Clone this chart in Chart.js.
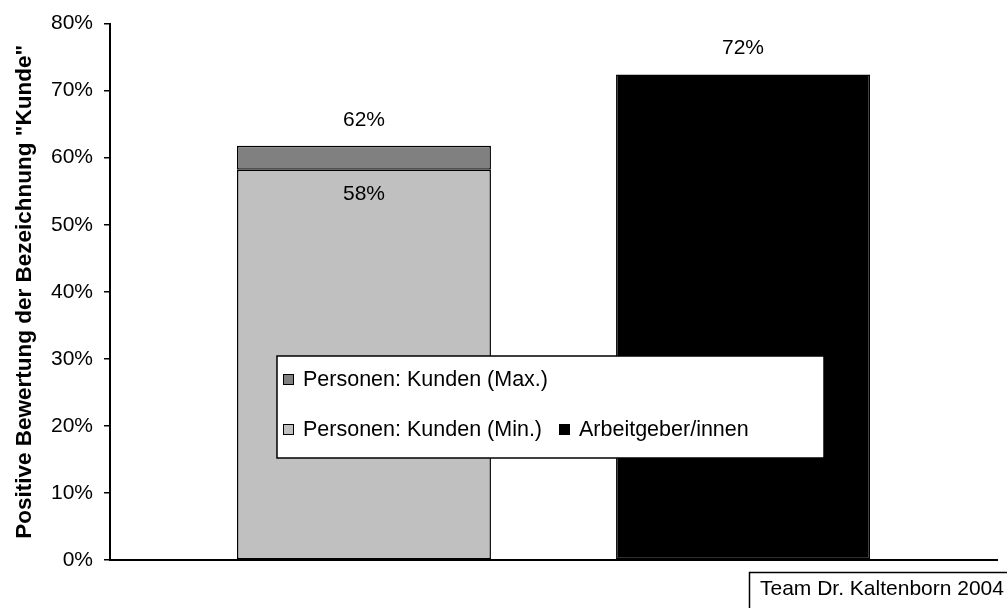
<!DOCTYPE html>
<html>
<head>
<meta charset="utf-8">
<script src="https://cdn.jsdelivr.net/npm/chart.js@4/dist/chart.umd.min.js"></script>
<style>
  html, body { margin: 0; padding: 0; background: #fff; }
  #wrap { width: 1007px; height: 608px; position: relative; }
</style>
</head>
<body>
<div id="wrap"><canvas id="c" width="1007" height="608"></canvas></div>
<script>
// Group positions along the x axis (1 = Personen/Kunden, 2 = Arbeitgeber/innen)
const groupPos = [1, 2];
const seriesNames = ['Personen: Kunden (Min.)', 'Personen: Kunden (Max.)', 'Arbeitgeber/innen'];
// Share of positive ratings, in percent
const kundenMin = [58.2];
const kundenMax = [61.8];
const arbeitgeber = [72.4];
const yTicks = [0, 10, 20, 30, 40, 50, 60, 70, 80];
const axisTitle = 'Positive Bewertung der Bezeichnung "Kunde"';
const sourceNote = 'Team Dr. Kaltenborn 2004';

const FONT = '"Liberation Sans", Arial, sans-serif';
const colors = ['#C0C0C0', '#808080', '#000000'];

const pct = v => Math.round(v) + '%';

const datasets = [
  {
    label: seriesNames[0],
    data: kundenMin.map(v => ({ x: groupPos[0], y: v })),
    backgroundColor: colors[0]
  },
  {
    label: seriesNames[1],
    data: kundenMax.map((v, i) => ({ x: groupPos[0], y: v - kundenMin[i] })),
    backgroundColor: colors[1]
  },
  {
    label: seriesNames[2],
    data: arbeitgeber.map(v => ({ x: groupPos[1], y: v })),
    backgroundColor: colors[2]
  }
].map(d => Object.assign(d, {
  borderColor: '#000',
  borderWidth: 1.5,
  borderSkipped: false,
  categoryPercentage: 1,
  barPercentage: 0.67
}));

// Value labels above / inside the columns
const valueLabels = {
  id: 'valueLabels',
  afterDatasetsDraw(chart) {
    const ctx = chart.ctx;
    ctx.save();
    ctx.font = '21px ' + FONT;
    ctx.fillStyle = '#000';
    ctx.textAlign = 'center';
    ctx.textBaseline = 'middle';
    const minEl = chart.getDatasetMeta(0).data[0];
    const maxEl = chart.getDatasetMeta(1).data[0];
    const agEl = chart.getDatasetMeta(2).data[0];
    ctx.fillText(pct(kundenMax[0]), maxEl.x, maxEl.y - 25);
    ctx.fillText(pct(kundenMin[0]), minEl.x, minEl.y + 24);
    ctx.fillText(pct(arbeitgeber[0]), agEl.x, agEl.y - 26);
    ctx.restore();
  }
};

// Boxed legend inside the plot, plus the source note bottom right
const boxedLegend = {
  id: 'boxedLegend',
  afterDraw(chart) {
    const ctx = chart.ctx;
    const ds = chart.data.datasets;
    ctx.save();
    // legend frame
    ctx.fillStyle = '#fff';
    ctx.fillRect(277, 356, 547, 102);
    ctx.strokeStyle = '#000';
    ctx.lineWidth = 1.5;
    ctx.strokeRect(277, 356, 547, 102);

    const entries = [
      { d: ds[1], x: 283, y: 379.5 },
      { d: ds[0], x: 283, y: 429.5 },
      { d: ds[2], x: 559, y: 429.5 }
    ];
    ctx.font = '21.5px ' + FONT;
    ctx.textBaseline = 'middle';
    ctx.textAlign = 'left';
    entries.forEach(e => {
      ctx.fillStyle = e.d.backgroundColor;
      ctx.fillRect(e.x, e.y - 5.5, 11, 11);
      ctx.lineWidth = 1;
      ctx.strokeStyle = '#000';
      ctx.strokeRect(e.x + 0.5, e.y - 5, 10, 10);
      ctx.fillStyle = '#000';
      ctx.fillText(e.d.label, e.x + 20, e.y + 1);
    });

    // source note
    ctx.lineWidth = 1.5;
    ctx.strokeStyle = '#000';
    ctx.strokeRect(749.5, 572.5, 300, 60);
    ctx.font = '21px ' + FONT;
    ctx.fillStyle = '#000';
    ctx.fillText(sourceNote, 760, 589);
    ctx.restore();
  }
};

new Chart(document.getElementById('c'), {
  type: 'bar',
  data: { datasets },
  options: {
    responsive: false,
    animation: false,
    layout: { padding: { left: 0, right: 10, top: 23, bottom: 48 } },
    plugins: {
      legend: { display: false },
      tooltip: { enabled: false }
    },
    scales: {
      x: {
        type: 'linear',
        stacked: true,
        offset: false,
        min: 0.33,
        max: 2.67,
        afterBuildTicks: s => { s.ticks = groupPos.map(v => ({ value: v })); },
        ticks: { display: false },
        grid: { display: false, drawTicks: false },
        border: { display: true, color: '#000', width: 2 }
      },
      y: {
        stacked: true,
        min: yTicks[0],
        max: yTicks[yTicks.length - 1],
        afterBuildTicks: s => { s.ticks = yTicks.map(v => ({ value: v })); },
        afterFit: s => { s.width = 110; },
        ticks: {
          callback: v => v + '%',
          color: '#000',
          font: { family: FONT, size: 21 },
          padding: 11
        },
        grid: {
          drawOnChartArea: false,
          drawTicks: true,
          tickLength: 6,
          color: '#000',
          lineWidth: 1.5
        },
        border: { display: true, color: '#000', width: 2 },
        title: {
          display: true,
          text: axisTitle,
          color: '#000',
          font: { family: FONT, size: 22.5, weight: 'bold' },
          padding: { top: 11, bottom: 0 }
        }
      }
    }
  },
  plugins: [valueLabels, boxedLegend]
});
</script>
</body>
</html>
